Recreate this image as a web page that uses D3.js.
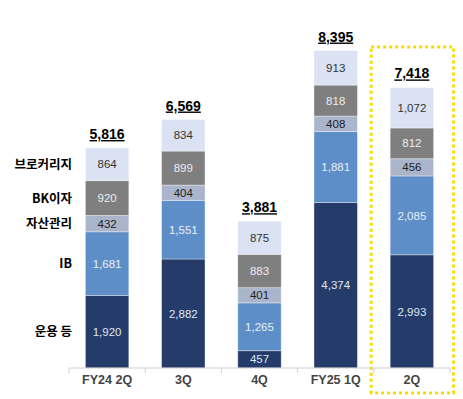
<!DOCTYPE html>
<head>
  <meta charset="utf-8">
  <script src="https://d3js.org/d3.v7.min.js"></script>
  <style>
    body { margin:0; background:#fff; }
    .seg-label { font-family: "Liberation Sans", Arial, sans-serif; font-size: 11.5px; }
    .total { font-family: "Liberation Sans", Arial, sans-serif; font-size: 14px; font-weight: bold; fill: #000; }
    .legend-label { font-family: "Noto Sans CJK KR", "Liberation Sans", sans-serif; font-size: 12.5px; font-weight: bold; fill: #000; }
    .cat-label { font-family: "Liberation Sans", Arial, sans-serif; font-size: 12.5px; font-weight: bold; fill: #444; }
  </style>
</head>
<body>
  <script>
    var categories = ["FY24 2Q", "3Q", "4Q", "FY25 1Q", "2Q"];
    var seriesNames = ["운용 등", "IB", "자산관리", "BK이자", "브로커리지"];
    var unyong = [1920, 2882, 457, 4374, 2993];
    var ib = [1681, 1551, 1265, 1881, 2085];
    var jasan = [432, 404, 401, 408, 456];
    var bk = [920, 899, 883, 818, 812];
    var broker = [864, 834, 875, 913, 1072];
    var totals = ["5,816", "6,569", "3,881", "8,395", "7,418"];

    var colours = ["#253c6a", "#5e8ec8", "#aab5cb", "#7f7f7f", "#dae2f3"];
    var textColours = ["#dfe6f3", "#e8eef8", "#222", "#eee", "#333"];

    var width = 463, height = 399;
    var svg = d3.select("body").append("svg")
      .attr("width", width)
      .attr("height", height);

    var rows = categories.map(function(c, i) {
      return { cat: c, s0: unyong[i], s1: ib[i], s2: jasan[i], s3: bk[i], s4: broker[i], total: totals[i] };
    });
    var keys = ["s0", "s1", "s2", "s3", "s4"];
    var stacked = d3.stack().keys(keys)(rows);

    var x = d3.scaleBand()
      .domain(categories)
      .range([69, 450])
      .paddingInner(0.43)
      .paddingOuter(0.215);

    var y = d3.scaleLinear()
      .domain([0, 9000])
      .range([368, 368 - 9000 * 0.03782]);

    // highlight box
    svg.append("rect")
      .attr("x", x("2Q") - 19)
      .attr("y", 47)
      .attr("width", x.bandwidth() + 39)
      .attr("height", 346)
      .attr("fill", "none")
      .attr("stroke", "#f7dc00")
      .attr("stroke-width", 3)
      .attr("stroke-dasharray", "3,3");

    var layers = svg.selectAll("g.layer")
      .data(stacked)
      .enter().append("g")
      .attr("class", "layer")
      .attr("fill", function(d, i) { return colours[i]; });

    layers.selectAll("rect")
      .data(function(d) { return d; })
      .enter().append("rect")
      .attr("x", function(d) { return x(d.data.cat); })
      .attr("y", function(d) { return y(d[1]); })
      .attr("width", x.bandwidth())
      .attr("height", function(d) { return y(d[0]) - y(d[1]); })
      .attr("stroke", "rgba(255,255,255,0.45)")
      .attr("stroke-width", 0.8);

    layers.selectAll("text")
      .data(function(d) { return d.map(function(p) { p.key = d.index; return p; }); })
      .enter().append("text")
      .attr("class", "seg-label")
      .attr("x", function(d) { return x(d.data.cat) + x.bandwidth() / 2; })
      .attr("y", function(d) { return (y(d[0]) + y(d[1])) / 2; })
      .attr("dy", "0.36em")
      .attr("text-anchor", "middle")
      .attr("fill", function(d) { return textColours[d.key]; })
      .text(function(d) { return d3.format(",")(d[1] - d[0]); });

    // totals
    svg.selectAll("text.total")
      .data(rows)
      .enter().append("text")
      .attr("class", "total")
      .attr("x", function(d) { return x(d.cat) + x.bandwidth() / 2; })
      .attr("y", function(d) { return y(d.s0 + d.s1 + d.s2 + d.s3 + d.s4) - 9; })
      .attr("text-anchor", "middle")
      .attr("text-decoration", "underline")
      .text(function(d) { return d.total; });

    // x axis
    var axis = svg.append("g").attr("transform", "translate(0,368)");
    axis.append("line")
      .attr("x1", 69).attr("x2", 450)
      .attr("stroke", "#d0d0d0");
    var step = x.step();
    axis.selectAll("line.tick")
      .data(d3.range(categories.length + 1))
      .enter().append("line")
      .attr("class", "tick")
      .attr("x1", function(i) { return 69 + i * step; })
      .attr("x2", function(i) { return 69 + i * step; })
      .attr("y1", 0).attr("y2", 5)
      .attr("stroke", "#d0d0d0");
    axis.selectAll("text")
      .data(categories)
      .enter().append("text")
      .attr("class", "cat-label")
      .attr("x", function(d) { return x(d) + x.bandwidth() / 2; })
      .attr("y", 16)
      .attr("text-anchor", "middle")
      .text(function(d) { return d; });

    // series labels at left, aligned to first bar segments
    svg.selectAll("text.legend-label")
      .data(stacked)
      .enter().append("text")
      .attr("class", "legend-label")
      .attr("x", 72)
      .attr("y", function(d) { return (y(d[0][0]) + y(d[0][1])) / 2; })
      .attr("dy", "0.36em")
      .attr("text-anchor", "end")
      .text(function(d, i) { return seriesNames[i]; });
  </script>
</body>
